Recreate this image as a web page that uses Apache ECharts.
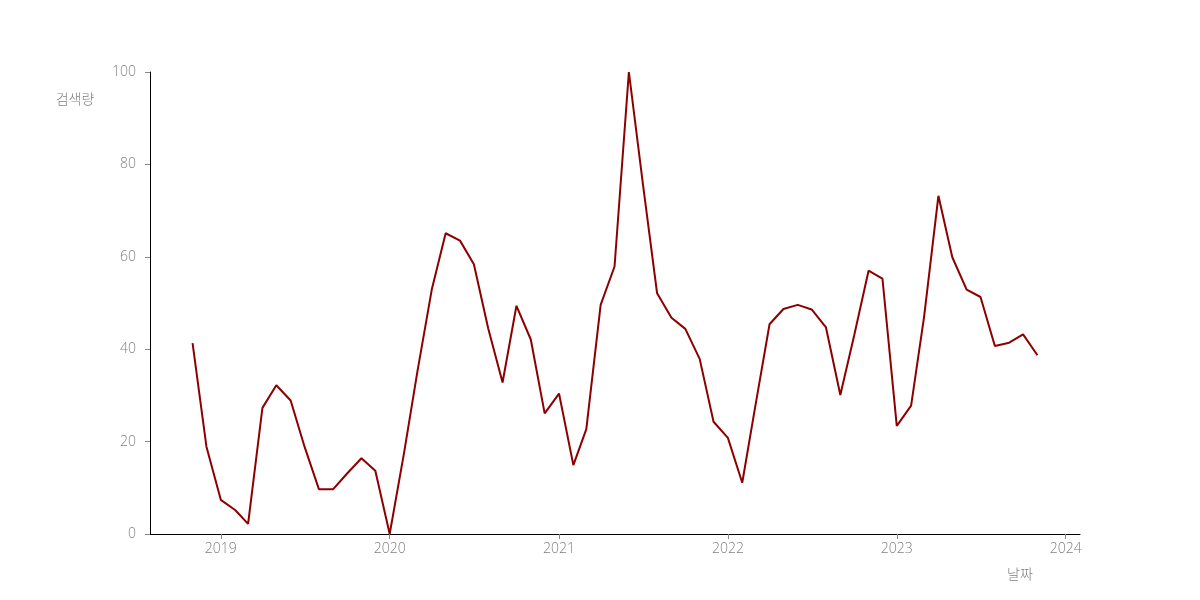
<!DOCTYPE html>
<html>
<head>
<meta charset="utf-8">
<script src="https://cdn.jsdelivr.net/npm/echarts@6/dist/echarts.min.js"></script>
<style>html,body{margin:0;padding:0;background:#fff;}#c{width:1200px;height:600px;}</style>
</head>
<body>
<div id="c"></div>
<script>
// Monthly dates (first of month)
const months = [
 '2018-11','2018-12',
 '2019-01','2019-02','2019-03','2019-04','2019-05','2019-06','2019-07','2019-08','2019-09','2019-10','2019-11','2019-12',
 '2020-01','2020-02','2020-03','2020-04','2020-05','2020-06','2020-07','2020-08','2020-09','2020-10','2020-11','2020-12',
 '2021-01','2021-02','2021-03','2021-04','2021-05','2021-06','2021-07','2021-08','2021-09','2021-10','2021-11','2021-12',
 '2022-01','2022-02','2022-03','2022-04','2022-05','2022-06','2022-07','2022-08','2022-09','2022-10','2022-11','2022-12',
 '2023-01','2023-02','2023-03','2023-04','2023-05','2023-06','2023-07','2023-08','2023-09','2023-10','2023-11'
];
const searchVolume = [
 41.3, 18.9,
 7.4, 5.2, 2.2, 27.3, 32.2, 28.9, 18.9, 9.7, 9.7, 13.1, 16.4, 13.7,
 0, 17.5, 35.2, 52.9, 65.1, 63.5, 58.4, 44.5, 32.8, 49.4, 42.1, 26.1,
 30.4, 14.9, 22.7, 49.6, 57.9, 100, 76, 52.1, 46.8, 44.4, 37.9, 24.3,
 20.8, 11.1, 27.5, 45.4, 48.7, 49.6, 48.6, 44.7, 30.1, 43, 57.0, 55.3,
 23.4, 27.8, 47, 73.2, 59.9, 52.9, 51.3, 40.7, 41.4, 43.2, 38.7
];
const yearTicks = [2019, 2020, 2021, 2022, 2023, 2024];
const yTicks = [0, 20, 40, 60, 80, 100];
const xName = '날짜';
const yName = '검색량';

function ts(s){ const p = s.split('-'); return Date.UTC(+p[0], +p[1]-1, 1); }
const xMin = Date.UTC(2018, 7, 1);
const xMax = Date.UTC(2024, 1, 1);
const yearVals = yearTicks.map(y => Date.UTC(y, 0, 1));

const font = '"Open Sans", "Noto Sans CJK KR", sans-serif';
const labelStyle = { color: '#808080', fontSize: 14, fontFamily: font, fontWeight: 300 };
const chart = echarts.init(document.getElementById('c'));
chart.setOption({
  animation: false,
  backgroundColor: '#ffffff',
  grid: { left: 150, right: 120, top: 72, bottom: 66, containLabel: false },
  xAxis: {
    type: 'value',
    min: xMin, max: xMax,
    name: xName,
    nameLocation: 'end',
    nameGap: -60,
    nameTextStyle: Object.assign({}, labelStyle, { align: 'center', verticalAlign: 'top', padding: [34, 0, 0, 0] }),
    axisLine: { show: true, lineStyle: { color: '#000', width: 1 } },
    axisTick: { show: true, length: 5, lineStyle: { color: '#888' }, customValues: yearVals },
    axisLabel: Object.assign({}, labelStyle, {
      margin: 8,
      customValues: yearVals,
      formatter: v => String(new Date(v).getUTCFullYear())
    }),
    splitLine: { show: false }
  },
  yAxis: {
    type: 'value',
    min: 0, max: 100, interval: 20,
    name: yName,
    nameLocation: 'end',
    nameGap: -35,
    nameTextStyle: Object.assign({}, labelStyle, { padding: [0, 150, 0, 0] }),
    axisLine: { show: true, lineStyle: { color: '#000', width: 1 } },
    axisTick: { show: true, length: 5, lineStyle: { color: '#888' } },
    axisLabel: Object.assign({}, labelStyle, { margin: 14 }),
    splitLine: { show: false }
  },
  series: [{
    type: 'line',
    data: months.map((m, i) => [ts(m), searchVolume[i]]),
    showSymbol: false,
    symbol: 'none',
    lineStyle: { color: '#8B0000', width: 2 },
    itemStyle: { color: '#8B0000' }
  }]
});
</script>
</body>
</html>
